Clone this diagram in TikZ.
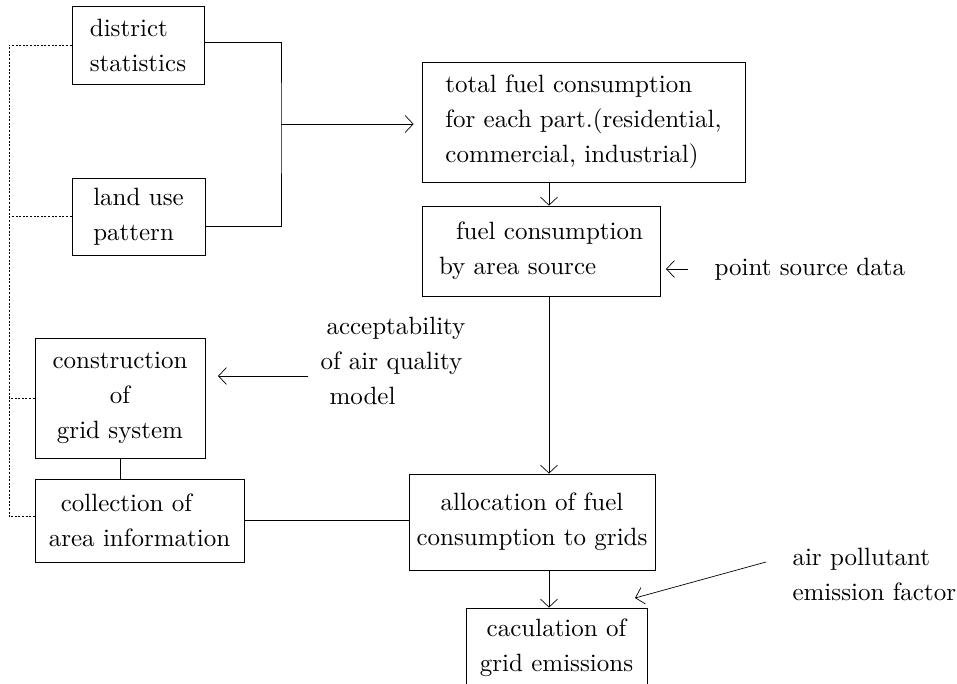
\documentclass[tikz,border=0pt]{standalone}
\usepackage{fontspec}
\setmainfont{lmroman10-regular}[Extension=.otf, BoldFont=lmroman10-bold]
\usetikzlibrary{arrows.meta}
\tikzset{
  box/.style={draw, line width=0.8pt, inner sep=0pt},
  arr/.style={line width=0.7pt, -{Straight Barb[length=8pt,width=17pt]}},
  link/.style={line width=0.7pt},
  dotline/.style={line width=0.6pt, dash pattern=on 2pt off 1.6pt},
}
\begin{document}
\begin{tikzpicture}[x=1pt, y=-1pt, every node/.style={font=\fontsize{25}{35}\selectfont}]
  \useasboundingbox (0,0) rectangle (957,684);

  % Inputs
  \node[box, minimum width=132, minimum height=78, align=left] (district) at (138,45) {district\\statistics};
  \node[box, minimum width=133, minimum height=77, align=left] (landuse) at (138.5,216.5) {land use\\pattern};
  \node[box, minimum width=170, minimum height=120, align=center] (grid) at (120,398) {construction\\of\\grid system};
  \node[box, minimum width=209, minimum height=83, align=left] (collect) at (139.5,520.5) {\hspace*{12pt}collection of\\area information};

  % Main chain
  \node[box, minimum width=323, minimum height=120, align=left] (total) at (583.5,122) {total fuel consumption\\for each part.(residential,\\commercial, industrial)};
  \node[box, minimum width=238, minimum height=90, align=left] (area) at (541,251) {\hspace*{17pt}fuel consumption\\by area source};
  \node[box, minimum width=246, minimum height=96, align=center] (alloc) at (532,522) {allocation of fuel\\consumption to grids};
  \node[box, minimum width=181, minimum height=80, align=center] (calc) at (556.5,648) {caculation of\\grid emissions};

  % Side data
  \node[anchor=west] (psrc) at (711,269) {point source data};
  \node[anchor=west, align=left] (accept) at (317,361) {\hspace*{6pt}acceptability\\of air quality\\\hspace*{9pt}model};
  \node[anchor=west, align=left] (factor) at (789,574.5) {air pollutant\\emission factor};

  \coordinate (junc) at (281,122);
  \coordinate (trunk) at (549,0);
  \coordinate (bus) at (9,0);
  \coordinate (psrc tail) at (688,269);
  \coordinate (psrc tip) at (666,269);
  \coordinate (accept tail) at (308,376);
  \coordinate (accept tip) at (218,376);
  \coordinate (factor tail) at (766,562);
  \coordinate (factor tip) at (635,598);

  % Merge of inputs
  \draw[link] ([yshift=3pt]district.east) -| (junc) |- ([yshift=-10pt]landuse.east);
  \draw[arr, shorten >=8pt] ([yshift=-2pt]junc) -- ([yshift=-2pt]total.west);

  % Trunk
  \draw[arr] (total.south -| trunk) -- (area.north -| trunk);
  \draw[arr] (area.south -| trunk) -- (alloc.north -| trunk);
  \draw[arr] (alloc.south -| trunk) -- (calc.north -| trunk);

  % Grid side
  \draw[link] (grid.south) -- (grid.south |- collect.north);
  \draw[link] (collect.east) -- (collect.east -| alloc.west);

  % Extra data
  \draw[arr] (psrc tail) -- (psrc tip);
  \draw[arr] (accept tail) -- (accept tip);
  \draw[arr] (factor tail) -- (factor tip);

  % Dotted feedback
  \draw[dotline] (district.west) -- (district.west -| bus) |- ([yshift=4pt]collect.west);
  \draw[dotline] (landuse.west) -- (landuse.west -| bus);
  \draw[dotline] (grid.west) -- (grid.west -| bus);
\end{tikzpicture}
\end{document}
